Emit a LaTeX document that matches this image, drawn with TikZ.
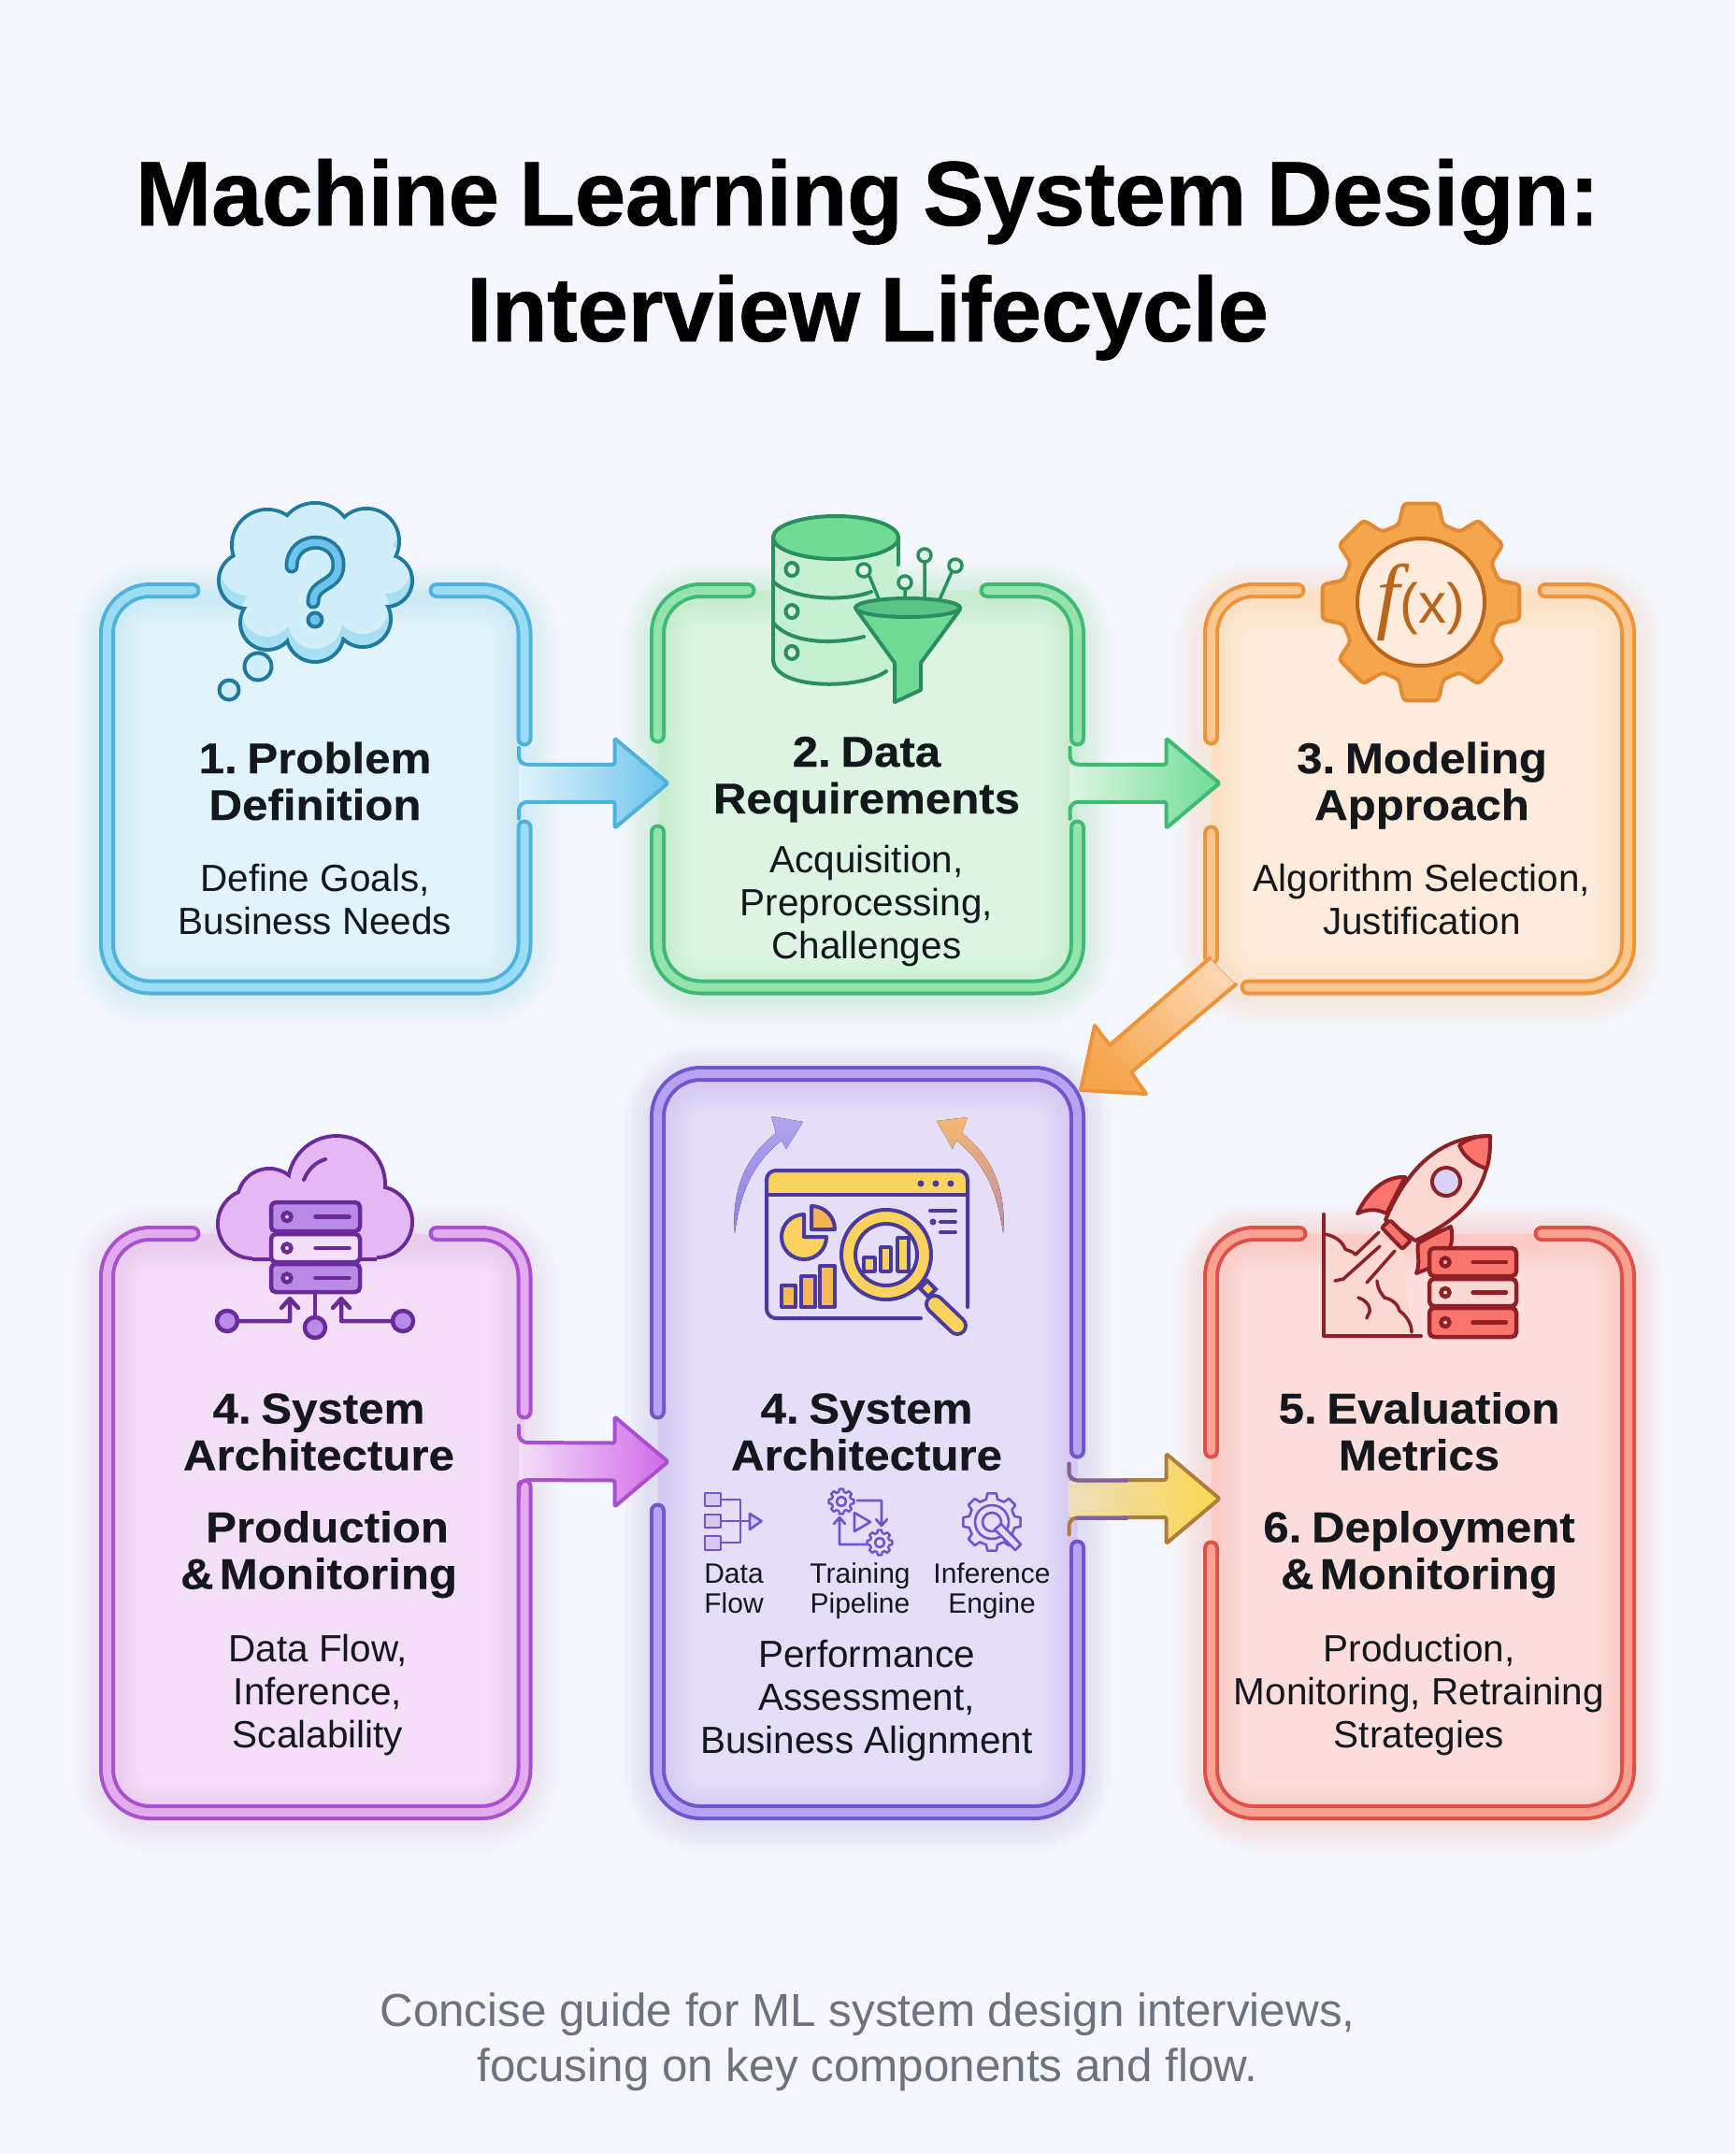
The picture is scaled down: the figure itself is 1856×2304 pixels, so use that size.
\documentclass[tikz,border=0pt]{standalone}
\usepackage{fontspec}
\setmainfont{Liberation Sans}
\newfontfamily\serifx{Liberation Serif}
\newfontfamily\headfont[FakeStretch=1.07,FakeBold=0.4,WordSpace=0.45]{Liberation Sans}
\newfontfamily\titlefont[FakeBold=0.6,LetterSpace=-0.5,WordSpace=0.8]{Liberation Sans}
\usetikzlibrary{calc}
\definecolor{ink}{HTML}{14171C}
\definecolor{pagebg}{HTML}{F4F7FB}
\definecolor{footc}{HTML}{6B7280}
\definecolor{bluD}{HTML}{4FB2DC}\definecolor{bluL}{HTML}{9CDDF6}\definecolor{bluF}{HTML}{E2F4FB}\definecolor{bluI}{HTML}{1F7A9E}\definecolor{bluS}{HTML}{A9DFF3}\definecolor{bluM}{HTML}{6CC3EC}
\definecolor{grnD}{HTML}{3DBB72}\definecolor{grnL}{HTML}{93E4AC}\definecolor{grnF}{HTML}{DDF6E3}\definecolor{grnI}{HTML}{2A8F60}\definecolor{grnM}{HTML}{6FDB95}\definecolor{grnS}{HTML}{C6F0D2}
\definecolor{orgD}{HTML}{EF9338}\definecolor{orgL}{HTML}{FBC78F}\definecolor{orgF}{HTML}{FDEBDB}\definecolor{orgI}{HTML}{B9661C}\definecolor{orgM}{HTML}{F5A54C}
\definecolor{magD}{HTML}{A94FD0}\definecolor{magL}{HTML}{E3ACEF}\definecolor{magF}{HTML}{F3DFF8}\definecolor{magI}{HTML}{6A2A9A}\definecolor{magM}{HTML}{CF6AE8}\definecolor{magS}{HTML}{E6B8F3}\definecolor{magT}{HTML}{B98AE6}
\definecolor{vioD}{HTML}{6F55CE}\definecolor{vioL}{HTML}{B6A4F3}\definecolor{vioF}{HTML}{E4DEF8}\definecolor{vioI}{HTML}{4B3A9E}\definecolor{vioS}{HTML}{D7C9F2}\definecolor{vioA}{HTML}{8F7EE6}
\definecolor{redD}{HTML}{DF5049}\definecolor{redL}{HTML}{FAA291}\definecolor{redF}{HTML}{FCDFDC}\definecolor{redI}{HTML}{8F2025}\definecolor{redM}{HTML}{F8756C}\definecolor{redS}{HTML}{FBD8D2}
\definecolor{yelM}{HTML}{FBD94F}\definecolor{yelI}{HTML}{FAD35E}\definecolor{yelO}{HTML}{B27C3C}
\tikzset{
  titletext/.style={font=\titlefont\fontsize{98}{122}\selectfont\bfseries,align=center,text=black,anchor=base,inner sep=0pt},
  headtext/.style={font=\headfont\fontsize{46}{50}\selectfont\bfseries,align=center,text=ink,anchor=base,inner sep=0pt},
  bodytext/.style={font=\fontsize{40.5}{46}\selectfont,align=center,text=ink,anchor=base,inner sep=0pt},
  smalltext/.style={font=\fontsize{30}{32}\selectfont,align=center,text=ink,anchor=base,inner sep=0pt},
  foottext/.style={font=\fontsize{49.4}{59}\selectfont,align=center,text=footc,anchor=base,inner sep=0pt},
  panel/.style={fill=#1,draw=none,rounded corners=46pt,inner sep=0pt,outer sep=0pt},
  bandline/.style={line cap=round,line join=round,rounded corners=46pt},
}
\newcommand\band[3]{\draw[bandline,#1,line width=17pt]#3;\draw[bandline,#2,line width=9pt]#3;}
\newcommand\glow[2]{\foreach \w in {72,66,...,18}{\draw[#2,opacity=.028,line width=\w pt,rounded corners=46pt] ($(#1.north west)+(0,5)$) rectangle ($(#1.south east)+(0,5)$);}}
% horizontal block arrow: start, tip, outline, left, middle, right colours
\newcommand\hblock[6]{%
  \fill[left color=#4,middle color=#5,right color=#6] ($(#1)+(0,-20)$) -- ($(#2)+(-57,-20)$) -- ($(#2)+(-57,-48)$) -- (#2) -- ($(#2)+(-57,48)$) -- ($(#2)+(-57,20)$) -- ($(#1)+(0,20)$) -- cycle;
  \draw[#3,line width=4pt,line join=round,line cap=round] ($(#1)+(0,-38)$) [rounded corners=9pt] -- ($(#1)+(0,-20)$) [rounded corners=2pt] -- ($(#2)+(-57,-20)$) -- ($(#2)+(-57,-48)$) -- (#2) -- ($(#2)+(-57,48)$) -- ($(#2)+(-57,20)$) [rounded corners=9pt] -- ($(#1)+(0,20)$) -- ($(#1)+(0,38)$);}
% gear: style, centre, tooth radius, base radius, half angles
\newcommand\gearshape[7]{\draw[#1,shift={(#2,#3)}] (#6:#5) \foreach \a in {45,90,...,315}{ -- (\a-#6:#5) -- (\a-#7:#4) -- (\a+#7:#4) -- (\a+#6:#5)} -- (360-#6:#5) -- (360-#7:#4) -- (360+#7:#4) -- cycle;}
% server slab
\newcommand\slab[7]{\draw[#6,line width=#7pt,fill=#5,rounded corners=5pt,line join=round] (#1,#2) rectangle (#3,#4);
  \draw[#6,line width=#7pt,fill=#5!40!white] ({#1+17},{(#2+#4)/2}) circle[radius=4.5];
  \draw[#6,line width=#7pt,line cap=round] ({#1+(#3-#1)*.5},{(#2+#4)/2}) -- ({#3-(#3-#1)*.12},{(#2+#4)/2});}
\newcommand\cloudA[1]{(337,578) circle[radius={38+#1}] (286,583) circle[radius={36+#1}] (392,579) circle[radius={33+#1}] (264,621) circle[radius={28+#1}] (413,621) circle[radius={26+#1}] (286,666) circle[radius={27+#1}] (337,677) circle[radius={29+#1}] (388,662) circle[radius={28+#1}] (337,622) circle[radius={66+#1}] }
\begin{document}
\begin{tikzpicture}[x=1pt,y=-1pt]
\useasboundingbox (0,0) rectangle (1856,2304);
\fill[pagebg] (0,0) rectangle (1856,2304);
% ---------- panels
\node[panel=bluF,minimum width=446.5pt,minimum height=424.5pt] (b1) at (337.75,843.75) {};
\node[panel=grnF,minimum width=449pt,minimum height=424.5pt] (b2) at (928,843.75) {};
\node[panel=orgF,minimum width=446pt,minimum height=424.5pt] (b3) at (1518.5,843.75) {};
\node[panel=magF,minimum width=446.5pt,minimum height=619pt] (b4) at (337.75,1629) {};
\node[panel=vioF,minimum width=449pt,minimum height=790pt] (b5) at (928,1543.5) {};
\node[panel=redF,minimum width=446pt,minimum height=619pt] (b6) at (1518.5,1629) {};
\glow{b1}{bluL}\glow{b2}{grnL}\glow{b3}{orgL}\glow{b4}{magL}\glow{b5}{vioL}\glow{b6}{redL}
% ---------- borders
\band{bluD}{bluL}{(206,631.5) -- (114.5,631.5) -- (114.5,1056) -- (561,1056) -- (561,885)}
\band{bluD}{bluL}{(467,631.5) -- (561,631.5) -- (561,790)}
\band{grnD}{grnL}{(800,631.5) -- (703.5,631.5) -- (703.5,787)}
\band{grnD}{grnL}{(703.5,890) -- (703.5,1056) -- (1152.5,1056) -- (1152.5,885)}
\band{grnD}{grnL}{(1056,631.5) -- (1152.5,631.5) -- (1152.5,790)}
\band{orgD}{orgL}{(1388,631.5) -- (1295.5,631.5) -- (1295.5,789)}
\band{orgD}{orgL}{(1295.5,891) -- (1295.5,1024)}
\band{orgD}{orgL}{(1335,1056) -- (1741.5,1056) -- (1741.5,631.5) -- (1653,631.5)}
\band{magD}{magL}{(206,1319.5) -- (114.5,1319.5) -- (114.5,1938.5) -- (561,1938.5) -- (561,1590)}
\band{magD}{magL}{(467,1319.5) -- (561,1319.5) -- (561,1510)}
\band{vioD}{vioL}{(703.5,1510) -- (703.5,1148.5) -- (1152.5,1148.5) -- (1152.5,1552)}
\band{vioD}{vioL}{(703.5,1616) -- (703.5,1938.5) -- (1152.5,1938.5) -- (1152.5,1655)}
\band{redD}{redL}{(1390,1319.5) -- (1295.5,1319.5) -- (1295.5,1552)}
\band{redD}{redL}{(1295.5,1656) -- (1295.5,1938.5) -- (1741.5,1938.5) -- (1741.5,1319.5) -- (1649,1319.5)}
% ---------- connectors
\coordinate (s12) at ($(b1.east)+(-6,-6)$); \coordinate (t12) at ($(b2.west)+(11,-6)$);
\hblock{s12}{t12}{bluD}{bluF}{bluM!75!white}{bluM}
\coordinate (s23) at ($(b2.east)+(-8,-6)$); \coordinate (t23) at ($(b3.west)+(9,-6)$);
\hblock{s23}{t23}{grnD}{grnF}{grnM!80!white}{grnM}
\coordinate (s45) at ($(b4.east)+(-6,-66)$); \coordinate (t45) at ($(b5.west)+(11,20)$);
\hblock{s45}{t45}{magD}{magF}{magM!75!white}{magM}
\coordinate (s56) at ($(b5.east)+(-9,60)$); \coordinate (t56) at ($(b6.west)+(9,-26)$);
\hblock{s56}{t56}{yelO}{yelM!35!vioF}{yelM!85!white}{yelM}
\draw[vioD!70!yelO,line width=4pt,line cap=round] ($(s56)+(0,-38)$) [rounded corners=9pt] -- ($(s56)+(0,-20)$) -- ($(s56)+(62,-20)$);
\draw[vioD!70!yelO,line width=4pt,line cap=round] ($(s56)+(8,20)$) -- ($(s56)+(62,20)$);
\coordinate (d1) at ($(b3.south west)+(-1.5,-31)$); \coordinate (d2) at ($(b3.south west)+(26.5,-3)$);
\coordinate (dT) at ($(b5.north east)+(3.5,17.5)$); \coordinate (dB1) at ($(b5.north east)+(18.5,-51.5)$);
\coordinate (dI1) at ($(b5.north east)+(34.5,-30.5)$); \coordinate (dI2) at ($(b5.north east)+(57.5,-1.5)$); \coordinate (dB2) at ($(b5.north east)+(73.5,21.5)$);
\fill[top color=orgL!60!orgF,middle color=orgM!70!orgL,bottom color=orgM,shading angle=-45] (d1) -- (dI1) -- (dB1) -- (dT) -- (dB2) -- (dI2) -- (d2) -- cycle;
\draw[orgD,line width=4pt,line join=round,line cap=round] (d1) -- (dI1) -- (dB1) -- (dT) -- (dB2) -- (dI2) -- (d2);
% ---------- icon 1: thought cloud
\fill[bluI] \cloudA{4};
\begin{scope}
\clip \cloudA{0};
\fill[bluS] (220,530) rectangle (450,715);
\begin{scope}[shift={(0,-12)}]\fill[bluF!70!bluS] \cloudA{0};\end{scope}
\end{scope}
\draw[bluI,line width=15pt,line cap=round] (312,606) .. controls (312,572) and (362,572) .. (362,604) .. controls (362,628) and (335,622) .. (335,644);
\draw[bluM,line width=7.5pt,line cap=round] (312,606) .. controls (312,572) and (362,572) .. (362,604) .. controls (362,628) and (335,622) .. (335,644);
\draw[bluI,line width=4pt,fill=bluM] (337,663) circle[radius=7.5];
\draw[bluI,line width=4pt,fill=bluF!70!bluS] (276,713) circle[radius=14.5];
\draw[bluI,line width=4pt,fill=bluF!70!bluS] (245,738) circle[radius=10.5];
% ---------- icon 2: database + funnel
\path[fill=grnS] (827,574) -- (827,706) .. controls (827,740) and (961,740) .. (961,706) -- (961,574) -- cycle;
\draw[grnI,line width=4pt,line cap=round] (827,574) -- (827,706) .. controls (829,738) and (920,738) .. (948,718);
\draw[grnI,line width=4pt,line cap=round] (961,574) -- (961,604);
\draw[grnI,line width=4pt,fill=grnM] (894,575) ellipse[x radius=67,y radius=23];
\draw[grnI,line width=4pt,line cap=round] (827,622) .. controls (845,640) and (900,645) .. (932,633);
\draw[grnI,line width=4pt,line cap=round] (827,666) .. controls (845,688) and (890,690) .. (924,681);
\foreach \y in {609,654,698}{\draw[grnI,line width=4pt,fill=grnF] (847,\y) ellipse[x radius=6.5,y radius=7];}
\draw[grnI,line width=3.5pt] (930,616) -- (943,648) (968,630) -- (968,650) (989,602) -- (989,646) (1018,612) -- (1003,646);
\draw[grnI,line width=3.5pt,fill=grnF] (924,610) circle[radius=7] (968,623) circle[radius=7] (989,594) circle[radius=7] (1022,605) circle[radius=7];
\draw[grnI,line width=4pt,fill=grnM,line join=round] (916,652) -- (957,709) -- (957,751) -- (985,738) -- (985,709) -- (1027,652) -- cycle;
\draw[grnI,line width=4pt,fill=grnM!70!grnI] (971,650) ellipse[x radius=56,y radius=10];
% ---------- icon 3: gear
\gearshape{draw=orgD!80!orgI,line width=4pt,fill=orgM,line join=round,rounded corners=4pt}{1520}{644}{107}{86}{16}{10}
\draw[orgI,line width=4pt,fill=orgF] (1520,644) circle[radius=68];
\node[text=orgI,inner sep=0pt] (fx) at (1520,644) {\fontsize{90}{90}\selectfont{\serifx\itshape f}\fontsize{60}{60}\selectfont(x)};
% ---------- icon 4: cloud with rack
\foreach \xx/\yy/\r in {360/1267/54,288/1284/36,270/1309/39,403/1307/40}{\fill[magI] (\xx,\yy) circle[radius=\r];}
\fill[magI] (270,1290) rectangle (403,1349);
\foreach \xx/\yy/\r in {360/1267/50,288/1284/32,270/1309/35,403/1307/36}{\fill[magS] (\xx,\yy) circle[radius=\r];}
\fill[magS] (270,1290) rectangle (403,1345);
\draw[magI,line width=4pt,line cap=round] (325,1262) .. controls (330,1250) and (338,1243) .. (348,1240);
\slab{290}{1286}{385}{1317}{magT}{magI}{4.5}
\slab{290}{1320}{385}{1350}{magF}{magI}{4.5}
\slab{290}{1352}{385}{1382}{magT}{magI}{4.5}
\draw[magI,line width=4.5pt,line cap=round,line join=round] (337,1382) -- (337,1409);
\draw[magI,line width=4.5pt,line cap=round,line join=round] (254,1413) -- (310,1413) -- (310,1392) (301,1399) -- (310,1389) -- (319,1399);
\draw[magI,line width=4.5pt,line cap=round,line join=round] (420,1413) -- (365,1413) -- (365,1392) (356,1399) -- (365,1389) -- (374,1399);
\draw[magI,line width=4.5pt,fill=magT] (243,1413) circle[radius=11] (337,1420) circle[radius=11] (431,1413) circle[radius=11];
% ---------- icon 5: dashboard
\fill[top color=vioA!60!vioF,bottom color=vioA] (786,1319) .. controls (782,1270) and (800,1235) .. (830,1212) -- (825,1194) -- (859,1200) -- (841,1229) -- (836,1220) .. controls (805,1245) and (792,1275) .. cycle;
\fill[top color=orgM!80!white,bottom color=vioA!60!orgM] (1073,1319) .. controls (1077,1270) and (1059,1235) .. (1029,1212) -- (1035,1195) -- (1002,1199) -- (1019,1229) -- (1023,1220) .. controls (1054,1245) and (1067,1275) .. cycle;
\fill[yelI,rounded corners=8pt] (822,1254) rectangle (1033,1300);
\fill[vioF] (820,1278) rectangle (1035,1302);
\draw[vioI,line width=4pt,line cap=round,line join=round,rounded corners=10pt] (985,1410) -- (820,1410) -- (820,1252) -- (1035,1252) -- (1035,1398);
\draw[vioI,line width=4pt] (820,1278) -- (1035,1278);
\fill[vioI] (985,1266) circle[radius=3.5] (1001,1266) circle[radius=3.5] (1017,1266) circle[radius=3.5];
\draw[vioI,line width=4pt,fill=yelI,line join=round] (860,1323) -- (860,1299) arc[start angle=-90,end angle=-360,radius=24] -- cycle;
\draw[vioI,line width=4pt,fill=orgM!70!yelI,line join=round] (868,1315) -- (868,1290) arc[start angle=-90,end angle=0,radius=25] -- cycle;
\foreach \xa/\xb/\yt in {836/851/1375,857/872/1365,877/893/1354}{\draw[vioI,line width=4pt,fill=orgM!60!yelI,line join=round] (\xa,\yt) rectangle (\xb,1398);}
\draw[vioI,line width=4pt,line cap=round] (995,1295) -- (1022,1295) (1006,1307) -- (1022,1307) (1006,1318) -- (1022,1318);
\fill[vioI] (998,1307) circle[radius=3.5];
\draw[vioI,line width=4pt,fill=yelI] (948,1342) circle[radius=48];
\draw[vioI,line width=4pt,fill=vioF] (948,1342) circle[radius=33];
\foreach \xa/\xb/\yt in {924/936/1345,942/953/1334,960/972/1324}{\draw[vioI,line width=3.5pt,fill=yelI,line join=round] (\xa,\yt) rectangle (\xb,1360);}
\draw[vioI,line width=22pt,line cap=round] (1000,1395) -- (1024,1418);
\draw[yelI,line width=14pt,line cap=round] (1000,1395) -- (1024,1418);
\draw[vioI,line width=4pt,fill=yelI] (984,1378) -- (992,1370) -- (1001,1379) -- (993,1387) -- cycle;
% small icons
\begin{scope}[vioD,line width=2.6pt,line join=round,line cap=round]
\foreach \ya/\yb in {1597/1611,1620/1634,1643/1658}{\draw[fill=vioS] (754,\ya) rectangle (771,\yb);}
\draw (771,1604) -- (792,1604) -- (792,1650) -- (771,1650) (771,1627) -- (802,1627);
\draw[fill=vioS] (802,1619) -- (814.5,1627) -- (802,1636) -- cycle;
\gearshape{line width=2.4pt}{900}{1606}{13.5}{10.5}{15}{9}
\draw (900,1606) circle[radius=5];
\gearshape{line width=2.4pt}{941}{1650}{13.5}{10.5}{15}{9}
\draw (941,1650) circle[radius=5];
\draw (914,1618) -- (931,1628) -- (914,1638) -- cycle;
\draw (917,1605) -- (943,1605) -- (943,1631) (937,1625) -- (943,1632) -- (949,1625);
\draw (927,1652) -- (898,1652) -- (898,1625) (892,1630) -- (898,1623) -- (904,1630);
\gearshape{line width=2.6pt}{1061}{1628}{31}{25}{14}{9}
\draw (1061,1628) circle[radius=18] (1061,1628) circle[radius=10];
\draw[fill=vioF,line width=2.6pt] (1064,1636) -- (1071,1630) -- (1092,1652) -- (1086,1658) -- cycle;
\end{scope}
% ---------- icon 6: rocket
\fill[redS] (1418,1322) -- (1433,1327) -- (1450,1342) -- (1475,1320) -- (1500,1336) -- (1510,1425) -- (1418,1428) -- cycle;
\draw[redI,line width=4pt,line cap=round,line join=round] (1416,1299) -- (1416,1429) -- (1520,1429);
\draw[redI,line width=3.5pt,line cap=round,line join=round] (1417,1320) .. controls (1428,1322) and (1436,1328) .. (1439,1336) .. controls (1442,1338) and (1447,1338) .. (1450,1342) -- (1475,1318);
\draw[redI,line width=3.5pt,line cap=round] (1428,1370) -- (1437,1368) -- (1476,1333) (1462,1372) -- (1492,1338);
\draw[redI,line width=3.5pt,line cap=round,line join=round] (1473,1370) .. controls (1474,1380) and (1478,1384) .. (1481,1388) .. controls (1490,1390) and (1496,1396) .. (1497,1402) .. controls (1505,1408) and (1510,1416) .. (1510,1425);
\draw[redI,line width=3.5pt,line cap=round] (1453,1388) .. controls (1460,1390) and (1465,1396) .. (1465,1400) .. controls (1466,1404) and (1463,1406) .. (1462,1410);
\draw[redI,line width=4pt,fill=redM,line join=round] (1517,1330) .. controls (1530,1322) and (1545,1315) .. (1552,1312) .. controls (1556,1325) and (1550,1345) .. (1540,1352) -- (1515,1362) .. controls (1520,1350) and (1515,1340) .. cycle;
\draw[redI,line width=4pt,fill=redM,line join=round] (1503,1259) .. controls (1485,1258) and (1465,1270) .. (1452,1298) .. controls (1465,1292) and (1475,1294) .. (1483,1298) -- cycle;
\draw[redI,line width=4pt,fill=redS,line join=round] (1594,1215) .. controls (1540,1215) and (1505,1250) .. (1482,1305) -- (1514,1327) .. controls (1570,1300) and (1594,1270) .. cycle;
\draw[redI,line width=4pt,fill=redM,line join=round] (1594,1215) .. controls (1580,1215) and (1570,1218) .. (1561,1225) .. controls (1566,1238) and (1578,1246) .. (1590,1250) .. controls (1594,1240) and (1594,1225) .. cycle;
\draw[redI,line width=4pt,fill=redM,rounded corners=2pt,line join=round] (1487,1305) -- (1478,1313) -- (1500,1336) -- (1509,1327) -- cycle;
\draw[redI,line width=4pt,fill=vioL!50!white] (1547,1264) circle[radius=15];
\slab{1529}{1335}{1622}{1365}{redM}{redI}{4.5}
\slab{1529}{1368}{1622}{1397}{redS}{redI}{4.5}
\slab{1529}{1399}{1622}{1430}{redM}{redI}{4.5}
% ---------- text
\node[titletext] (title1) at (928,241) {Machine Learning System Design:};
\node[titletext] (title2) at (928,365) {Interview Lifecycle};
\node[headtext] (h1) at (337,877) {1. Problem\\Definition};
\node[bodytext] (t1) at (337,999) {Define Goals,\\Business Needs};
\node[headtext] (h2) at (927,870) {2. Data\\Requirements};
\node[bodytext] (t2) at (927,1025) {Acquisition,\\Preprocessing,\\Challenges};
\node[headtext] (h3) at (1521,877) {3. Modeling\\Approach};
\node[bodytext] (t3) at (1521,999) {Algorithm Selection,\\Justification};
\node[headtext] (h4) at (341,1572.5) {4. System\\Architecture};
\node[headtext] (h4b) at (341,1699.5) {\hspace*{18pt}Production\\\& Monitoring};
\node[bodytext] (t4) at (340,1869.5) {Data Flow,\\Inference,\\Scalability};
\node[headtext] (h5) at (927,1572.5) {4. System\\Architecture};
\node[smalltext] (s1) at (785,1725) {Data\\Flow};
\node[smalltext] (s2) at (920,1725) {Training\\Pipeline};
\node[smalltext] (s3) at (1061,1725) {Inference\\Engine};
\node[bodytext] (t5) at (927,1875.5) {Performance\\Assessment,\\Business Alignment};
\node[headtext] (h6) at (1518,1572.5) {5. Evaluation\\Metrics};
\node[headtext] (h6b) at (1518,1699.5) {6. Deployment\\\& Monitoring};
\node[bodytext] (t6) at (1518,1869.5) {Production,\\Monitoring, Retraining\\Strategies};
\node[foottext] (foot) at (928,2226.5) {Concise guide for ML system design interviews,\\focusing on key components and flow.};
\end{tikzpicture}
\end{document}
